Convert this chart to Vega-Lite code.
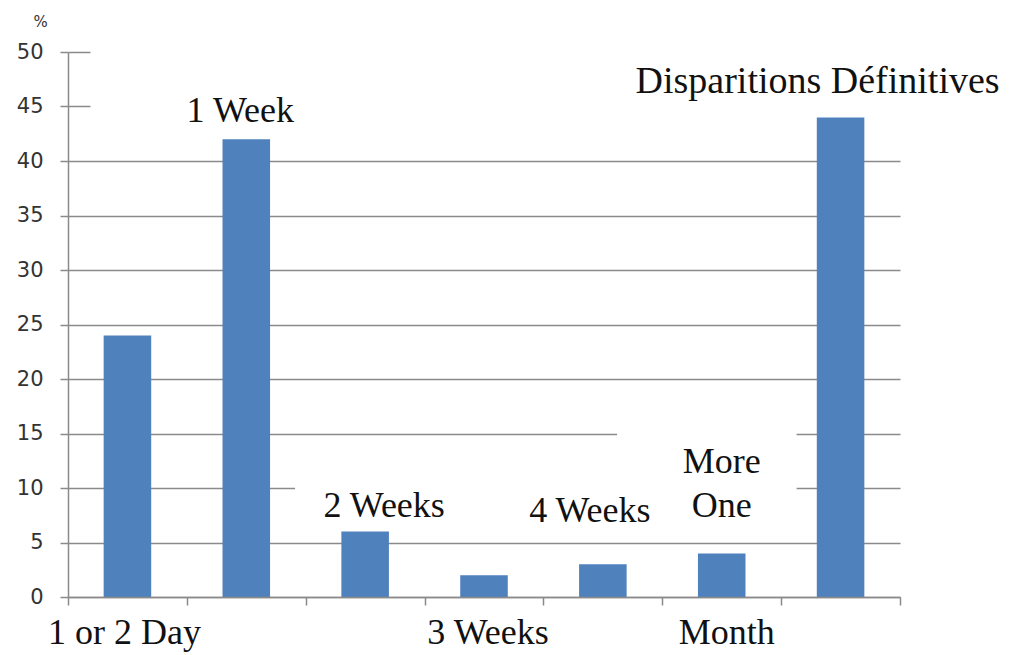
{
  "$schema": "https://vega.github.io/schema/vega-lite/v6.json",
  "width": 832,
  "height": 545,
  "autosize": {"type": "none"},
  "padding": {"left": 68, "top": 52, "right": 118, "bottom": 58},
  "background": "white",
  "config": {"view": {"stroke": null}, "text": {"font": "Liberation Serif", "fontSize": 36, "fontWeight": "normal", "color": "#111111", "baseline": "alphabetic", "align": "center"}},
  "datasets": {
    "bars": [
      {"category": "1 or 2 Day", "value": 24},
      {"category": "1 Week", "value": 42},
      {"category": "2 Weeks", "value": 6},
      {"category": "3 Weeks", "value": 2},
      {"category": "4 Weeks", "value": 3},
      {"category": "More One Month", "value": 4},
      {"category": "Disparitions Définitives", "value": 44}
    ],
    "one": [{}]
  },
  "encoding": {
    "x": {
      "field": "category",
      "type": "nominal",
      "scale": {
        "domain": ["1 or 2 Day", "1 Week", "2 Weeks", "3 Weeks", "4 Weeks", "More One Month", "Disparitions Définitives"],
        "paddingInner": 0, "paddingOuter": 0
      },
      "axis": {
        "title": null,
        "labels": false,
        "ticks": true,
        "tickBand": "extent",
        "tickSize": 8,
        "tickColor": "#8a8a8a",
        "tickWidth": 1.5,
        "domainColor": "#8a8a8a",
        "domainWidth": 1.5,
        "grid": false,
        "zindex": 1
      }
    }
  },
  "layer": [
    {
      "data": {"name": "one"},
      "mark": {"type": "rect", "color": "white"},
      "encoding": {
        "x": {"datum": "1 Week", "bandPosition": 0.91},
        "x2": {"datum": "Disparitions Définitives", "bandPosition": 0.13},
        "y": {"datum": 9},
        "y2": {"datum": 11}
      }
    },
    {
      "data": {"name": "one"},
      "mark": {"type": "rect", "color": "white"},
      "encoding": {
        "x": {"datum": "4 Weeks", "bandPosition": 0.62},
        "x2": {"datum": "Disparitions Définitives", "bandPosition": 0.13},
        "y": {"datum": 14},
        "y2": {"datum": 16}
      }
    },
    {
      "data": {"name": "bars"},
      "mark": {"type": "bar", "color": "#4F81BD", "width": {"band": 0.4}},
      "encoding": {
        "y": {
          "field": "value",
          "type": "quantitative",
          "scale": {"domain": [0, 50], "nice": false},
          "axis": {
            "values": [0, 5, 10, 15, 20, 25, 30, 35, 40, 45, 50],
            "title": "%",
            "titleAngle": 0,
            "titleX": -28,
            "titleY": -31,
            "titleAlign": "center",
            "titleBaseline": "middle",
            "titleFont": "DejaVu Sans",
            "titleFontSize": 15,
            "titleFontWeight": "normal",
            "titleColor": "#333333",
            "labelFont": "DejaVu Sans",
            "labelFontSize": 21,
            "labelColor": "#333333",
            "labelPadding": 17,
            "tickSize": 8,
            "tickColor": "#8a8a8a",
            "tickWidth": 1.5,
            "domainColor": "#8a8a8a",
            "domainWidth": 1.5,
            "grid": true,
            "gridColor": "#8a8a8a",
            "gridWidth": 1.5,
            "gridDash": {"condition": {"test": "datum.value > 40", "value": [22, 2000]}, "value": []}
          }
        }
      }
    },
    {
      "data": {"name": "one"},
      "mark": {"type": "text", "dy": 47, "dx": -3},
      "encoding": {"x": {"datum": "1 or 2 Day"}, "y": {"datum": 0}, "text": {"value": "1 or 2 Day"}}
    },
    {
      "data": {"name": "one"},
      "mark": {"type": "text", "dx": -6},
      "encoding": {"x": {"datum": "1 Week"}, "y": {"datum": 43.6}, "text": {"value": "1 Week"}}
    },
    {
      "data": {"name": "one"},
      "mark": {"type": "text", "dx": 19},
      "encoding": {"x": {"datum": "2 Weeks"}, "y": {"datum": 7.34}, "text": {"value": "2 Weeks"}}
    },
    {
      "data": {"name": "one"},
      "mark": {"type": "text", "dy": 47, "dx": 4},
      "encoding": {"x": {"datum": "3 Weeks"}, "y": {"datum": 0}, "text": {"value": "3 Weeks"}}
    },
    {
      "data": {"name": "one"},
      "mark": {"type": "text", "dx": -13},
      "encoding": {"x": {"datum": "4 Weeks"}, "y": {"datum": 6.88}, "text": {"value": "4 Weeks"}}
    },
    {
      "data": {"name": "one"},
      "mark": {"type": "text", "dx": 0},
      "encoding": {"x": {"datum": "More One Month"}, "y": {"datum": 11.38}, "text": {"value": "More"}}
    },
    {
      "data": {"name": "one"},
      "mark": {"type": "text", "dx": 0},
      "encoding": {"x": {"datum": "More One Month"}, "y": {"datum": 7.34}, "text": {"value": "One"}}
    },
    {
      "data": {"name": "one"},
      "mark": {"type": "text", "dy": 47, "dx": 5},
      "encoding": {"x": {"datum": "More One Month"}, "y": {"datum": 0}, "text": {"value": "Month"}}
    },
    {
      "data": {"name": "one"},
      "mark": {"type": "text", "dx": -23, "fontSize": 38},
      "encoding": {"x": {"datum": "Disparitions Définitives"}, "y": {"datum": 46.24}, "text": {"value": "Disparitions  Définitives"}}
    }
  ]
}
